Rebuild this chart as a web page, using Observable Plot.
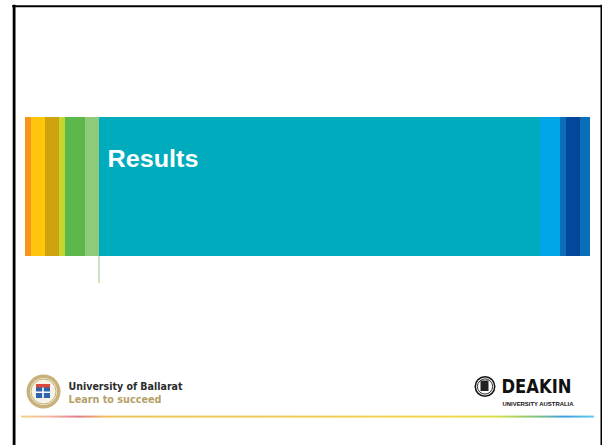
<!DOCTYPE html>
<html>
<head>
<meta charset="utf-8">
<script src="https://cdn.jsdelivr.net/npm/d3@7"></script>
<script src="https://cdn.jsdelivr.net/npm/@observablehq/plot@0.6"></script>
<style>
  html, body { margin: 0; padding: 0; background: #fff; }
  svg { display: block; }
</style>
</head>
<body>
<div id="chart"></div>
<script>
// Title band stripes: [start, end] and colours
const bandStripes = [
  {name: "orange",     x1: 25,  x2: 31},
  {name: "yellow",     x1: 31,  x2: 45},
  {name: "gold",       x1: 45,  x2: 59},
  {name: "lime",       x1: 59,  x2: 65},
  {name: "green",      x1: 65,  x2: 85},
  {name: "lightgreen", x1: 85,  x2: 99},
  {name: "teal",       x1: 99,  x2: 540},
  {name: "skyblue",    x1: 540, x2: 560},
  {name: "blue",       x1: 560, x2: 566},
  {name: "navy",       x1: 566, x2: 580},
  {name: "blue2",      x1: 580, x2: 590}
];
const stripeColors = ["#f7941d", "#ffc60b", "#cfa30e", "#c3d72f", "#5db84b", "#8fc97a",
                      "#00abbd", "#00a6e5", "#0a6fb7", "#03479a", "#0a6fb7"];
const titleText = ["Results"];
const leftLogoText = ["University of Ballarat", "Learn to succeed"];
const rightLogoText = ["DEAKIN", "UNIVERSITY AUSTRALIA"];

const W = 602, H = 445;
const stripes = bandStripes.map((d, i) => ({...d, color: stripeColors[i]}));

const plot = Plot.plot({
  width: W, height: H,
  margin: 0,
  x: {domain: [0, W], range: [0, W], axis: null},
  y: {domain: [0, H], range: [0, H], axis: null},
  color: {type: "identity"},
  marks: [
    // slide border
    Plot.ruleX([13.6], {y1: 4.7, y2: H, stroke: "#000", strokeWidth: 2.8}),
    Plot.ruleY([5.7], {x1: 12.2, x2: 602, stroke: "#000", strokeWidth: 2}),
    Plot.ruleX([600.8], {y1: 4.7, y2: H, stroke: "#000", strokeWidth: 1.6}),
    // title band
    Plot.rect(stripes, {x1: "x1", x2: "x2", y1: 117, y2: 256, fill: "color"}),
    Plot.ruleX([98.5], {y1: 256, y2: 283, stroke: "#8fc97a", strokeWidth: 1}),
    Plot.text(titleText, {x: 107, y: 166, text: d => d, fill: "#fff", fontSize: 23,
      fontWeight: "bold", fontFamily: "Liberation Sans, Arial, sans-serif",
      textAnchor: "start", lineAnchor: "bottom"}),
    // bottom gradient line
    Plot.rect([0], {x1: 21, x2: 594, y1: 415.6, y2: 417.6, fill: "url(#ubline)"}),
    // University of Ballarat emblem
    Plot.dot([0], {x: 43, y: 391, r: 17, fill: "#c8b07a"}),
    Plot.dot([0], {x: 43, y: 391, r: 13.5, fill: "#f6f2e6"}),
    Plot.dot([0], {x: 43, y: 391, r: 12.5, fill: "none", stroke: "#b89b5c", strokeWidth: 0.8}),
    Plot.rect([0], {x1: 36, x2: 50, y1: 384, y2: 398, fill: "#2e63ae"}),
    Plot.rect([0], {x1: 36, x2: 50, y1: 384, y2: 387.5, fill: "#d9473f"}),
    Plot.rect([0], {x1: 42.2, x2: 43.8, y1: 387.5, y2: 398, fill: "#fff"}),
    Plot.rect([0], {x1: 36, x2: 50, y1: 391.5, y2: 393, fill: "#fff"}),
    Plot.text([leftLogoText[0]], {x: 68, y: 389.5, text: d => d, fill: "#2b2b2b", fontSize: 11,
      fontWeight: "bold", fontFamily: "Liberation Sans Narrow, DejaVu Sans Condensed, sans-serif",
      textAnchor: "start", lineAnchor: "bottom"}),
    Plot.text([leftLogoText[1]], {x: 68, y: 402.2, text: d => d, fill: "#b4a067", fontSize: 11,
      fontWeight: "bold", fontFamily: "Liberation Sans Narrow, DejaVu Sans Condensed, sans-serif",
      textAnchor: "start", lineAnchor: "bottom"}),
    // Deakin emblem
    Plot.dot([0], {x: 484.5, y: 386, r: 10.5, fill: "#111"}),
    Plot.dot([0], {x: 484.5, y: 386, r: 9, fill: "#fff"}),
    Plot.dot([0], {x: 484.5, y: 386, r: 7.6, fill: "none", stroke: "#111", strokeWidth: 0.9}),
    Plot.rect([0], {x1: 480.5, x2: 488.5, y1: 380.5, y2: 391, fill: "#222"}),
    Plot.text([rightLogoText[0]], {x: 501, y: 392.5, text: d => d, fill: "#111", fontSize: 19,
      fontWeight: "bold", fontFamily: "Liberation Sans Narrow, DejaVu Sans Condensed, sans-serif",
      textAnchor: "start", lineAnchor: "bottom"}),
    Plot.text([rightLogoText[1]], {x: 502, y: 405.3, text: d => d, fill: "#111", fontSize: 6.2,
      fontWeight: "bold", fontFamily: "Liberation Sans, Arial, sans-serif",
      textAnchor: "start", lineAnchor: "bottom"})
  ]
});

// gradient for the bottom line
const svg = d3.select(plot);
const grad = svg.insert("defs", ":first-child").append("linearGradient")
  .attr("id", "ubline").attr("gradientUnits", "userSpaceOnUse")
  .attr("x1", 21).attr("x2", 594).attr("y1", 0).attr("y2", 0);
[[0, "#f3d58a"], [0.05, "#f1b7a0"], [0.1, "#e27c8c"], [0.15, "#efc25c"],
 [0.45, "#f0ca55"], [0.75, "#f3d84a"], [0.83, "#d9e047"], [0.9, "#7cc47c"],
 [0.95, "#3f9fe0"], [1, "#62cdf2"]].forEach(([o, c]) =>
  grad.append("stop").attr("offset", o).attr("stop-color", c));

// fit logo texts to their measured widths
const widths = {"University of Ballarat": 114, "Learn to succeed": 93, "DEAKIN": 70,
                "UNIVERSITY AUSTRALIA": 71, "Results": 91};
svg.selectAll("text").each(function() {
  const t = this.textContent;
  if (widths[t]) d3.select(this).attr("textLength", widths[t]).attr("lengthAdjust", "spacingAndGlyphs");
});

document.getElementById("chart").appendChild(plot);
</script>
</body>
</html>
